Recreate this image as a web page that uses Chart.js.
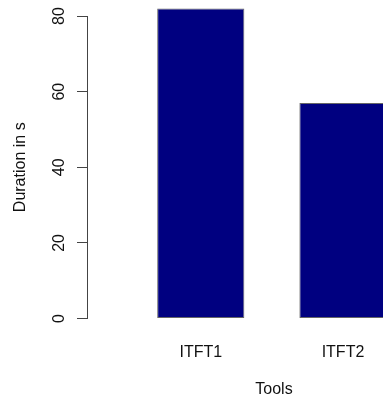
<!DOCTYPE html>
<html>
<head>
<meta charset="utf-8">
<script src="https://cdn.jsdelivr.net/npm/chart.js@4"></script>
<style>
  html, body { margin: 0; padding: 0; background: #fff; overflow: hidden; width: 383px; height: 398px; }
  canvas { display: block; }
</style>
</head>
<body>
<canvas id="chart" width="461" height="398"></canvas>
<script>
const categories = ['ITFT1', 'ITFT2'];
const durations = [82, 57];
const yTicks = [0, 20, 40, 60, 80];

const FONT = "'Liberation Sans', Arial, Helvetica, sans-serif";

const ctx = document.getElementById('chart').getContext('2d');
const chart = new Chart(ctx, {
  type: 'bar',
  data: {
    datasets: [{
      data: categories.map((c, i) => ({ x: i + 1, y: durations[i] })),
      backgroundColor: '#000080',
      borderColor: '#666',
      borderWidth: 1,
      borderSkipped: false,
      categoryPercentage: 1,
      barPercentage: 0.613,
      clip: false
    }]
  },
  options: {
    responsive: false,
    devicePixelRatio: 1,
    animation: false,
    layout: { padding: { top: 16, left: 0, right: 0, bottom: 0 } },
    plugins: { legend: { display: false }, tooltip: { enabled: false } },
    scales: {
      x: {
        type: 'linear',
        offset: false,
        min: 0.2,
        max: 2.83,
        grid: { display: false, drawTicks: false },
        border: { display: false },
        afterBuildTicks: (s) => { s.ticks = categories.map((c, i) => ({ value: i + 1 })); },
        afterFit: (s) => { s.height = 79.5; },
        ticks: {
          autoSkip: false,
          padding: 24,
          color: '#111',
          font: { family: FONT, size: 16 },
          callback: (v) => categories[v - 1]
        },
        title: {
          display: true,
          text: 'Tools',
          color: '#111',
          font: { family: FONT, size: 16, lineHeight: 1 },
          padding: { top: 0, bottom: 0 }
        }
      },
      y: {
        min: 0,
        max: 80,
        grid: { drawOnChartArea: false, tickLength: 10, color: '#444', lineWidth: 1 },
        border: { display: true, color: '#444', width: 1 },
        afterBuildTicks: (s) => { s.ticks = yTicks.map(v => ({ value: v })); },
        afterFit: (s) => { s.width = 87; s.paddingTop = 0; s.paddingBottom = 0; },
        ticks: {
          minRotation: 90,
          maxRotation: 90,
          crossAlign: 'center',
          padding: 9,
          color: '#111',
          font: { family: FONT, size: 16, lineHeight: 1 }
        },
        title: {
          display: true,
          text: 'Duration in s',
          color: '#111',
          font: { family: FONT, size: 16 },
          padding: { top: 11, bottom: 0 }
        }
      }
    }
  }
});
</script>
</body>
</html>
